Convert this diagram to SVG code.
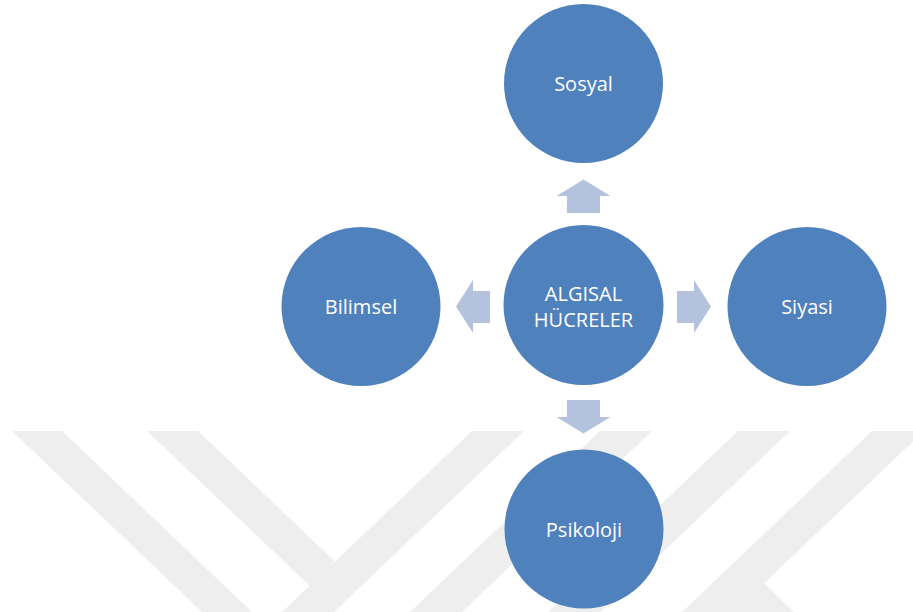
<svg xmlns="http://www.w3.org/2000/svg" width="913" height="612" viewBox="0 0 913 612">
<style>
.wm{fill:#eeeeee;stroke:none}
.node{fill:#4f81bd}
.lbl{fill:#ffffff;font-family:"Open Sans","Noto Sans","Liberation Sans",sans-serif;font-size:20px;text-anchor:middle}
.arr{fill:#b3c3de}
</style>
<rect width="913" height="612" fill="#ffffff"/>
<g id="watermark">
<polygon class="wm" points="12,431 62,431 252,612 202,612"/>
<polygon class="wm" points="472,431 524,431 334,612 282,612"/>
<polygon class="wm" points="147,431 198,431 335,561.5 309.5,585.8"/>
<polygon class="wm" points="600,431 652,431 462,612 410,612"/>
<polygon class="wm" points="738,431 790,431 600,612 548,612"/>
<polygon class="wm" points="872,431 924,431 734,612 682,612"/>
<polygon class="wm" points="764,583 794,612 734,612"/>
</g>
<g id="connectors">
<polygon class="arr" points="567,213 600,213 600,196 610.5,196 583.5,179.5 556.5,196 567,196"/>
<polygon class="arr" points="490,291 490,323 473,323 473,333 456,306.5 473,280 473,291"/>
<polygon class="arr" points="677,291 677,323 694,323 694,333 711,306.5 694,280 694,291"/>
<polygon class="arr" points="567,400 600,400 600,417 610.5,417 583.5,433.5 556.5,417 567,417"/>
</g>
<g id="node-center">
<circle class="node" cx="583.5" cy="305" r="80"/>
<text class="lbl" x="583.5" y="300.5">ALGISAL</text>
<text class="lbl" x="583.5" y="327">HÜCRELER</text>
</g>
<g id="node-sosyal">
<circle class="node" cx="583.5" cy="83.5" r="79.5"/>
<text class="lbl" x="583.5" y="90.5">Sosyal</text>
</g>
<g id="node-bilimsel">
<circle class="node" cx="361" cy="306.5" r="79.5"/>
<text class="lbl" x="361" y="313.5">Bilimsel</text>
</g>
<g id="node-siyasi">
<circle class="node" cx="807" cy="306.5" r="79.5"/>
<text class="lbl" x="807" y="313.5">Siyasi</text>
</g>
<g id="node-psikoloji">
<circle class="node" cx="584" cy="529" r="79.5"/>
<text class="lbl" x="584" y="536.5">Psikoloji</text>
</g>
</svg>
